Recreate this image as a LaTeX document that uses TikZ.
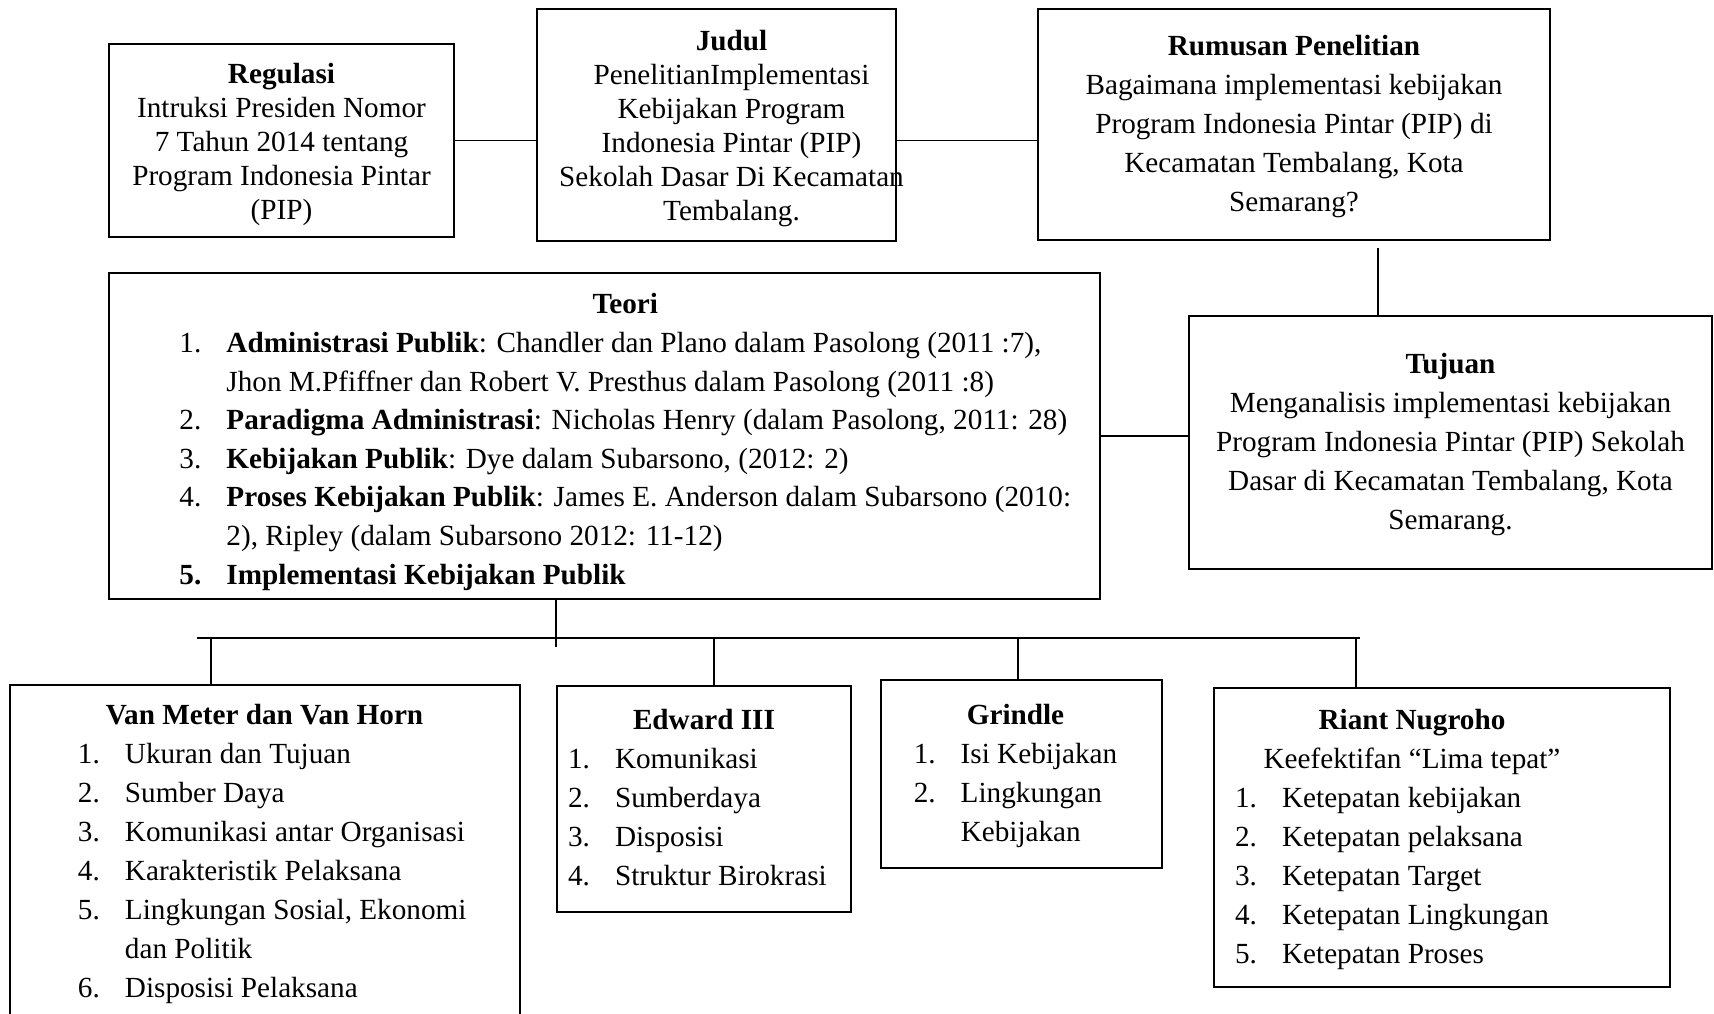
\documentclass[tikz,border=0pt]{standalone}
\usepackage{fontspec}
\setmainfont{Liberation Serif}
\usepackage{array}
\newcommand{\numlist}[1]{\begin{tabular}[t]{@{}p{23.5pt}@{}l@{}}#1\end{tabular}}
\begin{document}
\begin{tikzpicture}[x=0.5pt, y=-0.5pt,
  box/.style={draw, line width=1.1pt, inner sep=0pt},
  txt/.style={align=center, inner sep=0pt, yshift=-1pt, font=\fontsize{14.6}{19.5}\selectfont},
  listtxt/.style={txt, yshift=-1.3pt},
  txttight/.style={align=center, inner sep=0pt, yshift=-2pt, font=\fontsize{14.6}{17}\selectfont},
  link/.style={line width=0.6pt},
  bar/.style={line width=0.9pt}]
\path[use as bounding box, clip] (0,0) rectangle (1714,1013);

% top row
\node[box, minimum width=172.5pt, minimum height=96.5pt] (regulasi) at (281.5,140.5) {};
\node[txttight] (regulasitxt) at (regulasi.center) {\textbf{Regulasi}\\Intruksi Presiden Nomor\\7 Tahun 2014 tentang\\Program Indonesia Pintar\\(PIP)};
\node[box, minimum width=179.5pt, minimum height=116pt] (judul) at (716.5,125) {};
\node[txttight] (judultxt) at ([xshift=7.5pt]judul.center) {\textbf{Judul}\\PenelitianImplementasi\\Kebijakan Program\\Indonesia Pintar (PIP)\\Sekolah Dasar Di Kecamatan\\Tembalang.};
\node[box, minimum width=256pt, minimum height=115.5pt] (rumusan) at (1294,124.5) {};
\node[txt] (rumusantxt) at (rumusan.center) {\textbf{Rumusan Penelitian}\\Bagaimana implementasi kebijakan\\Program Indonesia Pintar (PIP) di\\Kecamatan Tembalang, Kota\\Semarang?};

% middle row
\node[box, minimum width=495.5pt, minimum height=163pt] (teori) at (604.5,436) {};
\node[listtxt, yshift=-2pt, font=\fontsize{14.6}{19.3}\selectfont] (teoritxt) at ([xshift=10.4pt]teori.center) {\textbf{Teori}\\\numlist{
  1. & \textbf{Administrasi Publik}: Chandler dan Plano dalam Pasolong (2011 :7),\\
     & Jhon M.Pfiffner dan Robert V. Presthus dalam Pasolong (2011 :8)\\
  2. & \textbf{Paradigma Administrasi}: Nicholas Henry (dalam Pasolong, 2011: 28)\\
  3. & \textbf{Kebijakan Publik}: Dye dalam Subarsono, (2012: 2)\\
  4. & \textbf{Proses Kebijakan Publik}: James E. Anderson dalam Subarsono (2010:\\
     & 2), Ripley (dalam Subarsono 2012: 11-12)\\
  \textbf{5.} & \textbf{Implementasi Kebijakan Publik}}};
\node[box, minimum width=261.5pt, minimum height=126.5pt] (tujuan) at (1450.5,442.5) {};
\node[txt] (tujuantxt) at (tujuan.center) {\textbf{Tujuan}\\Menganalisis implementasi kebijakan\\Program Indonesia Pintar (PIP) Sekolah\\Dasar di Kecamatan Tembalang, Kota\\Semarang.};

% bottom row
\node[box, minimum width=255pt, minimum height=167.5pt] (vanmeter) at (265,852.5) {};
\node[listtxt] (vanmetertxt) at ([xshift=3.6pt]vanmeter.center) {\textbf{Van Meter dan Van Horn}\hspace*{7.7pt}\\\numlist{
  1. & Ukuran dan Tujuan\\
  2. & Sumber Daya\\
  3. & Komunikasi antar Organisasi\\
  4. & Karakteristik Pelaksana\\
  5. & Lingkungan Sosial, Ekonomi\\
     & dan Politik\\
  6. & Disposisi Pelaksana}};
\node[box, minimum width=147pt, minimum height=113pt] (edward) at (704,799) {};
\node[listtxt] (edwardtxt) at ([xshift=-3.3pt]edward.center) {\hspace*{6.6pt}\textbf{Edward III}\\\numlist{
  1. & Komunikasi\\
  2. & Sumberdaya\\
  3. & Disposisi\\
  4. & Struktur Birokrasi}};
\node[box, minimum width=140.5pt, minimum height=94pt] (grindle) at (1021.5,774) {};
\node[listtxt] (grindletxt) at ([xshift=-3pt]grindle.center) {\textbf{Grindle}\\\numlist{
  1. & Isi Kebijakan\\
  2. & Lingkungan\\
     & Kebijakan}};
\node[box, minimum width=228pt, minimum height=149.5pt] (riant) at (1442,837.5) {};
\node[listtxt] (rianttxt) at ([xshift=-25pt]riant.center) {\hspace*{20pt}\textbf{Riant Nugroho}\\\hspace*{20pt}Keefektifan ``Lima tepat''\\\numlist{
  1. & Ketepatan kebijakan\\
  2. & Ketepatan pelaksana\\
  3. & Ketepatan Target\\
  4. & Ketepatan Lingkungan\\
  5. & Ketepatan Proses}};

% connectors
\draw[link] (regulasi.east) -- (regulasi.east -| judul.west);
\draw[link] (judul.east |- regulasi.east) -- (rumusan.west |- regulasi.east);
\coordinate (rt) at (1378,0);
\draw[link, shorten <=3.5pt] (rumusan.south -| rt) -- (tujuan.north -| rt);
\draw[link] (teori.east) -- (teori.east -| tujuan.west);

% tree below Teori
\coordinate (hub) at (556,638);
\coordinate (barl) at (197,638);
\coordinate (barr) at (1360,638);
\draw[link] (teori.south -| hub) -- ([yshift=-4.5pt]hub);
\draw[bar] (barl) -- (barr);
\foreach \x/\n in {211/vanmeter, 714/edward, 1018/grindle, 1356/riant}{
  \coordinate (drop) at (\x,638);
  \draw[link] (drop) -- (drop |- \n.north);
}
\end{tikzpicture}
\end{document}
